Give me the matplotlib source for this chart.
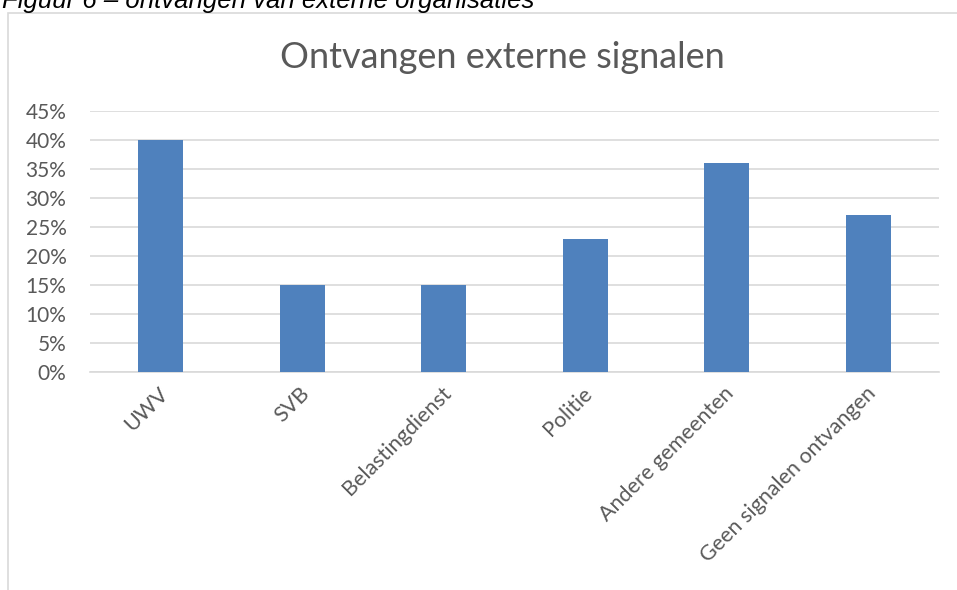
import numpy as np
import matplotlib
matplotlib.use("Agg")
import matplotlib.pyplot as plt
from matplotlib.patches import Rectangle
from matplotlib.ticker import FuncFormatter
from matplotlib.transforms import ScaledTranslation

plt.rcParams['font.family'] = ['Lato', 'DejaVu Sans']

categories = ["UWV", "SVB", "Belastingdienst", "Politie", "Andere gemeenten", "Geen signalen ontvangen"]
values = [0.40, 0.15, 0.15, 0.23, 0.36, 0.27]
y_ticks = [0.0, 0.05, 0.10, 0.15, 0.20, 0.25, 0.30, 0.35, 0.40, 0.45]

W, H = 957, 590
fig = plt.figure(figsize=(W / 100, H / 100), dpi=100)

# chart frame (left and top edges visible, rest runs off the page)
fig.patches.append(Rectangle((8 / W, -0.1), 1.2, (H - 13) / H + 0.1,
                             transform=fig.transFigure, fill=False,
                             edgecolor="#d9d9d9", linewidth=1.2))

# caption above the chart, partly cut by the top edge like the source
fig.text(2 / W, 1 - 8 / H, "Figuur 6 – ontvangen van externe organisaties",
         fontsize=18.5, style="italic", family="Liberation Sans",
         ha="left", va="baseline", color="black")

ax = fig.add_axes([90 / W, 1 - 372 / H, (939 - 90) / W, (372 - 111) / H])
x = np.arange(len(categories))
ax.bar(x, values, width=0.315, color="#4f81bd", zorder=3)

ax.set_xlim(-0.5, len(categories) - 0.5)
ax.set_ylim(0, 0.45)
ax.set_yticks(y_ticks)
ax.yaxis.set_major_formatter(FuncFormatter(lambda v, p: f"{v * 100:.0f}%"))
ax.grid(axis="y", color="#d9d9d9", linewidth=1.2, zorder=0)
for s in ["top", "right", "left"]:
    ax.spines[s].set_visible(False)
ax.spines["bottom"].set_color("#d9d9d9")
ax.spines["bottom"].set_linewidth(1.2)
ax.tick_params(axis="both", length=0, labelsize=15, colors="#595959")
ax.tick_params(axis="y", pad=17)

ax.set_xticks(x)
ax.set_xticklabels(categories, rotation=45, ha="right", va="top",
                   rotation_mode="anchor", fontsize=15.5)
ax.tick_params(axis="x", pad=8)
shift = ScaledTranslation(-3 / 100, 0, fig.dpi_scale_trans)
for lbl in ax.get_xticklabels():
    lbl.set_transform(lbl.get_transform() + shift)

fig.text(502 / W, 1 - 58 / H, "Ontvangen externe signalen", fontsize=26,
         color="#595959", ha="center", va="center")

fig.savefig("out.png", dpi=100)
